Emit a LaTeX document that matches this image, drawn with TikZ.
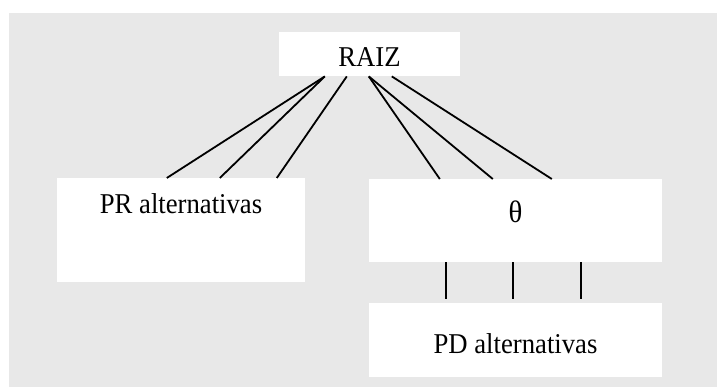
\documentclass[tikz,border=0pt]{standalone}
\usepackage{fontspec}
\setmainfont[FakeStretch=0.93]{Liberation Serif}
\definecolor{panel}{RGB}{232,232,232}
\tikzset{
  box/.style={fill=white, draw=none, inner xsep=0pt, inner ysep=0pt, anchor=north,
    font=\fontsize{28.7}{34}\selectfont},
  link/.style={draw=black, line width=1.8pt}
}
\begin{document}
\begin{tikzpicture}[x=1pt, y=-1pt]
  \useasboundingbox (0,0) rectangle (717,387);
  \fill[panel] (9,13) rectangle (717,387);

  % boxes: text height/depth place the baseline inside each box
  \node[box, minimum width=181pt, text height=34pt, text depth=10pt] (raiz) at (369.5,32) {RAIZ};
  \node[box, minimum width=248pt, text height=35pt, text depth=69pt] (pr) at (181,178) {PR alternativas};
  \node[box, minimum width=293pt, text height=43pt, text depth=40pt,
        font=\fontsize{31}{36}\selectfont] (theta) at (515.5,179) {θ};
  \node[box, minimum width=293pt, text height=50pt, text depth=24pt] (pd) at (515.5,303) {PD alternativas};

  % root to PR alternatives
  \draw[link] ([xshift=46pt]raiz.south west) -- ([xshift=110pt]pr.north west);
  \draw[link] ([xshift=46pt]raiz.south west) -- ([xshift=163pt]pr.north west);
  \draw[link] ([xshift=68pt]raiz.south west) -- ([xshift=220pt]pr.north west);
  % root to theta
  \draw[link] ([xshift=90pt]raiz.south west) -- ([xshift=71pt]theta.north west);
  \draw[link] ([xshift=90pt]raiz.south west) -- ([xshift=124pt]theta.north west);
  \draw[link] ([xshift=113pt]raiz.south west) -- ([xshift=183pt]theta.north west);
  % theta to PD alternatives
  \draw[link] ([xshift=77pt]theta.south west) -- ([xshift=77pt,yshift=4pt]pd.north west);
  \draw[link] ([xshift=144pt]theta.south west) -- ([xshift=144pt,yshift=4pt]pd.north west);
  \draw[link] ([xshift=212pt]theta.south west) -- ([xshift=212pt,yshift=4pt]pd.north west);
\end{tikzpicture}
\end{document}
